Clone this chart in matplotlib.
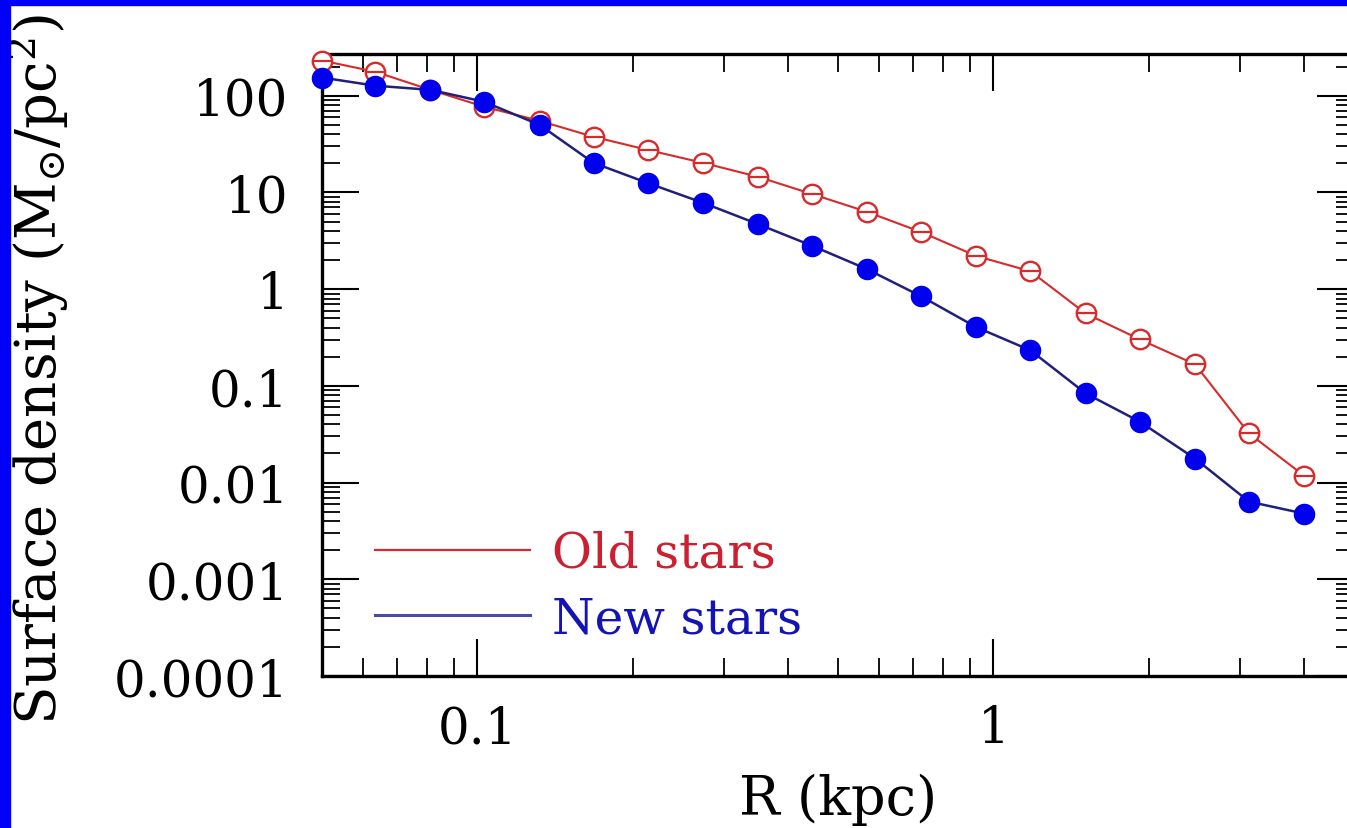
import matplotlib
matplotlib.use("Agg")
import matplotlib.pyplot as plt
from matplotlib.lines import Line2D
from matplotlib.patches import Rectangle
from matplotlib.ticker import FixedLocator, FixedFormatter, LogLocator, NullFormatter

# ---- data ----
radius_kpc = [0.050, 0.0634, 0.0811, 0.103, 0.132, 0.168, 0.214, 0.274, 0.350, 0.446,
              0.569, 0.724, 0.927, 1.18, 1.51, 1.92, 2.46, 3.13, 4.00]
old_stars  = [231, 177, 115, 77, 55, 37.6, 27.5, 20.2, 14.5, 9.6,
              6.3, 3.9, 2.2, 1.53, 0.56, 0.303, 0.167, 0.0322, 0.0118]
new_stars  = [154, 127, 115, 86.7, 50, 20.2, 12.5, 7.8, 4.7, 2.8,
              1.61, 0.845, 0.404, 0.233, 0.0836, 0.0428, 0.0177, 0.00635, 0.00478]

x_ticks       = [0.1, 1]
x_tick_labels = ["0.1", "1"]
y_ticks       = [100, 10, 1, 0.1, 0.01, 0.001, 0.0001]
y_tick_labels = ["100", "10", "1", "0.1", "0.01", "0.001", "0.0001"]

RED       = "#d82a2a"
RED_TXT   = "#cc1f2f"
BLUE      = "#0000ee"
BLUE_LINE = "#20207a"
BLUE_TXT  = "#1414b4"

plt.rcParams["font.family"] = "DejaVu Serif"
plt.rcParams["mathtext.fontset"] = "dejavuserif"

W, H = 1347, 829
fig = plt.figure(figsize=(W / 100, H / 100), dpi=100)
ax = fig.add_axes([322 / W, 1 - 677 / H, (1354 - 322) / W, (677 - 55) / H])

# blue frame strips (left and top)
fig.patches.append(Rectangle((0, 0), 10 / W, 1, transform=fig.transFigure,
                             color="#0000fa", zorder=10))
fig.patches.append(Rectangle((0, 1 - 6 / H), 1, 6 / H, transform=fig.transFigure,
                             color="#0000fa", zorder=10))

# ---- curves ----
ax.plot(radius_kpc, old_stars, color=RED, lw=1.5, zorder=2, clip_on=False)
ax.plot(radius_kpc, old_stars, ls="none", marker="o", ms=14, mfc="white",
        mec=RED, mew=1.7, zorder=3, clip_on=False)
ax.plot(radius_kpc, old_stars, ls="none", marker="_", ms=13, mec=RED,
        mew=1.6, zorder=4, clip_on=False)

ax.plot(radius_kpc, new_stars, color=BLUE_LINE, lw=1.8, zorder=5, clip_on=False)
ax.plot(radius_kpc, new_stars, ls="none", marker="o", ms=14.5, mfc=BLUE,
        mec=BLUE, zorder=6, clip_on=False)

# ---- axes ----
ax.set_xscale("log")
ax.set_yscale("log")
ax.set_xlim(0.05, 5)
ax.set_ylim(1e-4, 270)

ax.xaxis.set_major_locator(FixedLocator(x_ticks))
ax.xaxis.set_major_formatter(FixedFormatter(x_tick_labels))
ax.yaxis.set_major_locator(FixedLocator(y_ticks))
ax.yaxis.set_major_formatter(FixedFormatter(y_tick_labels))
for axis in (ax.xaxis, ax.yaxis):
    axis.set_minor_locator(LogLocator(base=10, subs=range(2, 10), numticks=20))
    axis.set_minor_formatter(NullFormatter())

ax.tick_params(which="both", direction="in", top=True, right=True, colors="black")
ax.tick_params(which="major", length=26.5, width=1.5, labelsize=36)
ax.tick_params(which="minor", length=13, width=1.3)
ax.tick_params(axis="x", which="major", pad=20)
ax.tick_params(axis="y", which="major", pad=24)

for sp in ax.spines.values():
    sp.set_linewidth(2.4)

ax.set_xlabel("R (kpc)", fontsize=39, labelpad=14)
fig.text(38 / W, 1 - 370 / H, r"Surface density (M$_{\odot}$/pc$^{2}$)",
         rotation=90, ha="center", va="center", fontsize=40.5)

handles = [Line2D([], [], color=RED, lw=1.6), Line2D([], [], color="#4a4aa8", lw=2.2)]
leg = ax.legend(handles, ["Old stars", "New stars"], loc="lower left",
                bbox_to_anchor=(0.051, 0.054), frameon=False, fontsize=35,
                handlelength=3.2, handletextpad=0.45, labelspacing=0.38,
                borderpad=0, borderaxespad=0)
for txt, c in zip(leg.get_texts(), [RED_TXT, BLUE_TXT]):
    txt.set_color(c)

fig.savefig("out.png", dpi=100)
